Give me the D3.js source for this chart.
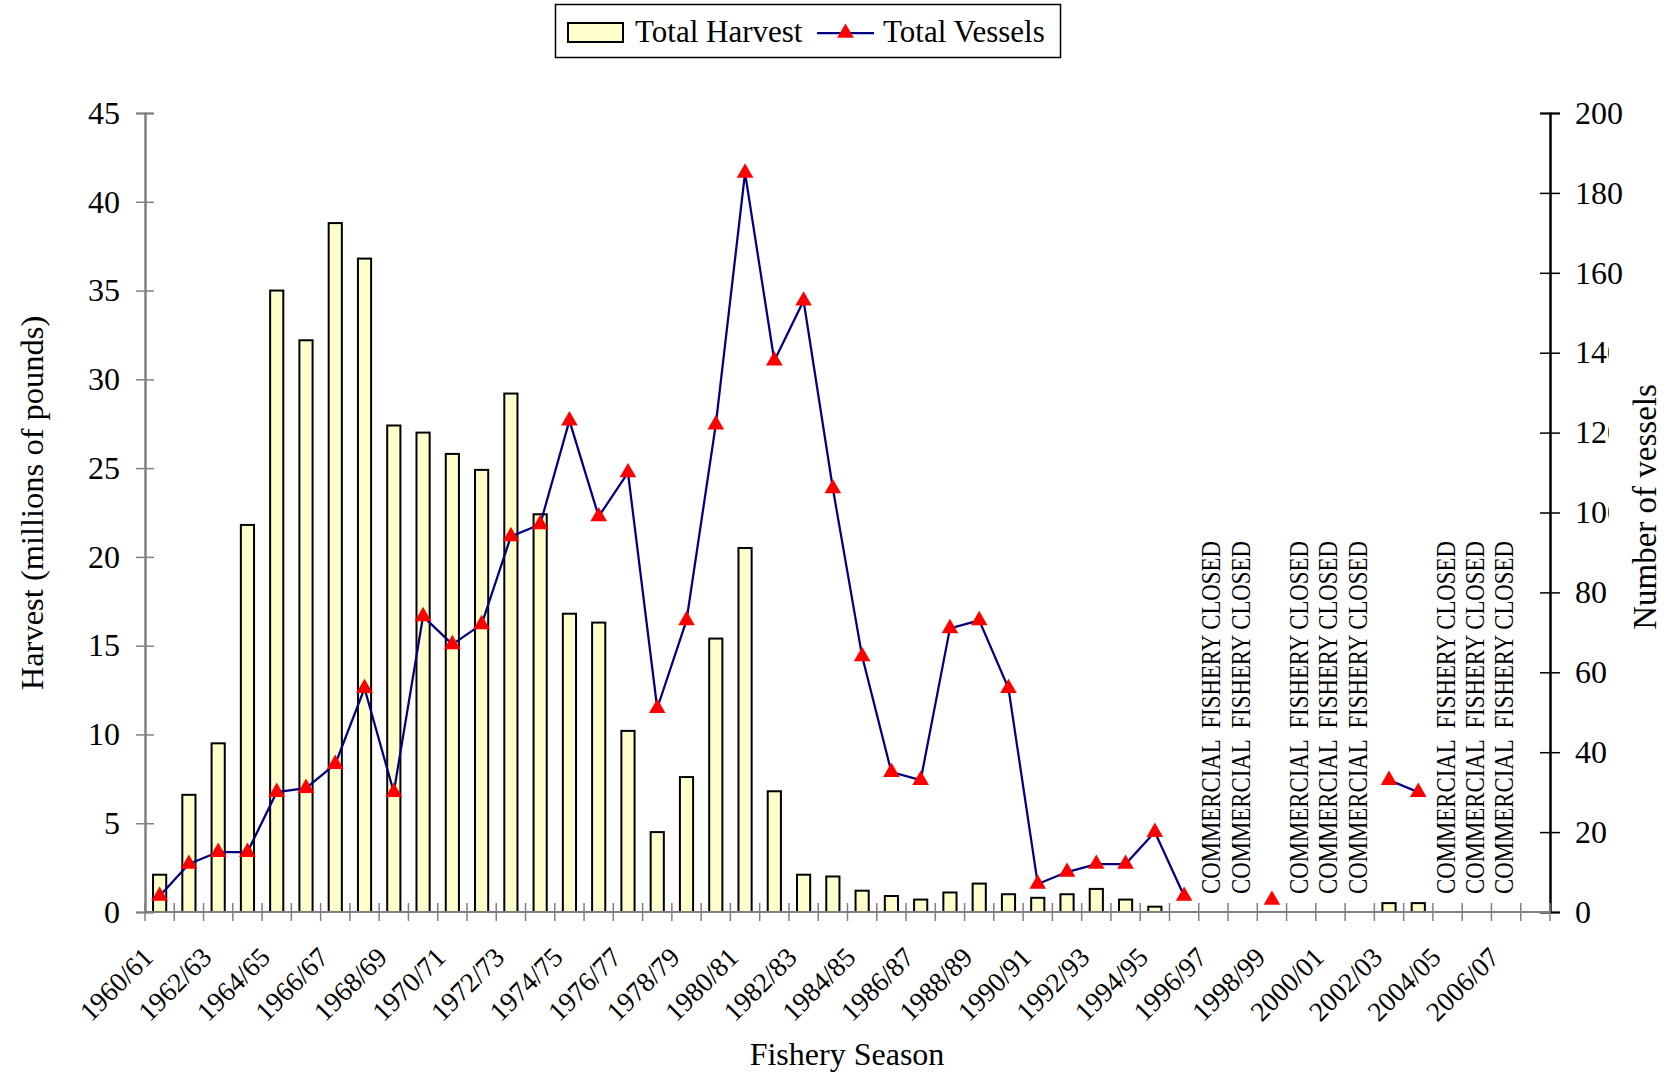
<!DOCTYPE html>
<html>
<head>
<meta charset="utf-8">
<script src="https://cdn.jsdelivr.net/npm/d3@7"></script>
<style>
html, body { margin: 0; padding: 0; background: #fff; }
svg { display: block; }
text { font-family: "Liberation Serif", "Times New Roman", serif; fill: #000; }
</style>
</head>
<body>
<svg id="chart" width="1671" height="1074"></svg>
<script>
// fishery seasons (x categories)
const seasons = ["1960/61","1961/62","1962/63","1963/64","1964/65","1965/66","1966/67","1967/68",
  "1968/69","1969/70","1970/71","1971/72","1972/73","1973/74","1974/75","1975/76",
  "1976/77","1977/78","1978/79","1979/80","1980/81","1981/82","1982/83","1983/84",
  "1984/85","1985/86","1986/87","1987/88","1988/89","1989/90","1990/91","1991/92",
  "1992/93","1993/94","1994/95","1995/96","1996/97","1997/98","1998/99","1999/00",
  "2000/01","2001/02","2002/03","2003/04","2004/05","2005/06","2006/07","2007/08"];

// total harvest, millions of pounds (null = no bar)
const harvest = [2.1, 6.6, 9.5, 21.8, 35.0, 32.2, 38.8, 36.8,
  27.4, 27.0, 25.8, 24.9, 29.2, 22.4, 16.8, 16.3,
  10.2, 4.5, 7.6, 15.4, 20.5, 6.8, 2.1, 2.0,
  1.2, 0.9, 0.7, 1.1, 1.6, 1.0, 0.8, 1.0,
  1.3, 0.7, 0.3, null, null, null, null, null,
  null, null, 0.5, 0.5, null, null, null, null];

// total vessels (null = no point)
const vessels = [4, 12, 15, 15, 30, 31, 37, 56,
  30, 74, 67, 72, 94, 97, 123, 99,
  110, 51, 73, 122, 185, 138, 153, 106,
  64, 35, 33, 71, 73, 56, 7, 10,
  12, 12, 20, 4, null, null, 3, null,
  null, null, 33, 30, null, null, null, null];

const closedSeasons = ["1996/97","1997/98","1999/00","2000/01","2001/02","2004/05","2005/06","2006/07"];

const leftTicks = [0, 5, 10, 15, 20, 25, 30, 35, 40, 45];
const rightTicks = [0, 20, 40, 60, 80, 100, 120, 140, 160, 180, 200];

const svg = d3.select("#chart");

const plotL = 145, plotR = 1550, plotT = 113, plotB = 912;

const x = d3.scaleBand().domain(seasons).range([plotL, plotR]).paddingInner(0.55).paddingOuter(0.275);
const yL = d3.scaleLinear().domain([0, 45]).range([plotB, plotT]);
const yR = d3.scaleLinear().domain([0, 200]).range([plotB, plotT]);
const cx = s => x(s) + x.bandwidth() / 2;

const axisGray = "#808080";

// bars
svg.append("g")
  .selectAll("rect")
  .data(seasons.map((s, i) => ({ s, v: harvest[i] })).filter(d => d.v != null))
  .join("rect")
  .attr("x", d => x(d.s))
  .attr("y", d => yL(d.v))
  .attr("width", x.bandwidth())
  .attr("height", d => plotB - yL(d.v))
  .attr("fill", "#FFFFCC")
  .attr("stroke", "#000")
  .attr("stroke-width", 2);

// left axis
const gL = svg.append("g").attr("transform", `translate(${plotL},0)`);
gL.call(d3.axisLeft(yL).tickValues(leftTicks).tickSize(9).tickPadding(16).tickFormat(d3.format("d")));
gL.append("g").call(d3.axisRight(yL).tickValues(leftTicks).tickSize(9).tickFormat(""));
gL.selectAll("path").attr("stroke", axisGray).attr("stroke-width", 2);
gL.selectAll("line").attr("stroke", axisGray).attr("stroke-width", 1.5);
gL.selectAll("text").style("font-size", "32px").style("font-family", "Liberation Serif");

// right axis
const gR = svg.append("g").attr("transform", `translate(${plotR},0)`);
gR.call(d3.axisRight(yR).tickValues(rightTicks).tickSize(10).tickPadding(15).tickFormat(d3.format("d")));
gR.append("g").call(d3.axisLeft(yR).tickValues(rightTicks).tickSize(10).tickFormat(""));
gR.selectAll("path").attr("stroke", "#000").attr("stroke-width", 2);
gR.selectAll("line").attr("stroke", "#000").attr("stroke-width", 1.5);
gR.selectAll("text").style("font-size", "32px").style("font-family", "Liberation Serif");

// x axis line and cross ticks at band boundaries
const gX = svg.append("g");
gX.append("line").attr("x1", plotL).attr("x2", plotR).attr("y1", plotB).attr("y2", plotB)
  .attr("stroke", axisGray).attr("stroke-width", 2);
gX.selectAll("line.tick")
  .data(seasons.concat(["end"]))
  .join("line")
  .attr("class", "tick")
  .attr("x1", (d, i) => i < seasons.length ? x(d) - x.step() * 0.275 : plotR)
  .attr("x2", (d, i) => i < seasons.length ? x(d) - x.step() * 0.275 : plotR)
  .attr("y1", plotB - 9).attr("y2", plotB + 9)
  .attr("stroke", axisGray).attr("stroke-width", 1.5);

gX.selectAll("text")
  .data(seasons.filter((s, i) => i % 2 === 0))
  .join("text")
  .attr("transform", d => `translate(${cx(d) - 5},${plotB + 47}) rotate(-45)`)
  .attr("text-anchor", "end")
  .style("font-size", "27.5px")
  .text(d => d);

// vessels line
const line = d3.line()
  .defined((d, i) => vessels[i] != null)
  .x((d, i) => cx(seasons[i]))
  .y((d, i) => yR(vessels[i]));
svg.append("path")
  .datum(seasons)
  .attr("d", line)
  .attr("fill", "none")
  .attr("stroke", "#000080")
  .attr("stroke-width", 2.25);

const tri = d3.symbol(d3.symbolTriangle, 120);
svg.append("g")
  .selectAll("path")
  .data(seasons.map((s, i) => ({ s, v: vessels[i] })).filter(d => d.v != null))
  .join("path")
  .attr("d", tri)
  .attr("transform", d => `translate(${cx(d.s)},${yR(d.v)})`)
  .attr("fill", "#FF0000");

// closed-season notes
svg.append("g")
  .selectAll("text")
  .data(closedSeasons)
  .join("text")
  .attr("transform", d => `translate(${cx(d) + 7},${plotB - 18}) rotate(-90)`)
  .attr("text-anchor", "start")
  .attr("textLength", 353)
  .attr("lengthAdjust", "spacingAndGlyphs")
  .style("font-size", "27px")
  .style("white-space", "pre")
  .text("COMMERCIAL  FISHERY CLOSED");

// axis titles
svg.append("text")
  .attr("transform", `translate(43,503) rotate(-90)`)
  .attr("text-anchor", "middle")
  .style("font-size", "32.5px")
  .text("Harvest (millions of pounds)");

svg.append("rect")
  .attr("x", 1609).attr("y", 300).attr("width", 62).attr("height", 420)
  .attr("fill", "#fff");
svg.append("text")
  .attr("transform", `translate(1656,507) rotate(-90)`)
  .attr("text-anchor", "middle")
  .style("font-size", "33px")
  .text("Number of vessels");

svg.append("text")
  .attr("x", 847).attr("y", 1065)
  .attr("text-anchor", "middle")
  .style("font-size", "32px")
  .text("Fishery Season");

// legend
const lg = svg.append("g");
lg.append("rect").attr("x", 555.5).attr("y", 4.5).attr("width", 505).attr("height", 53)
  .attr("fill", "#fff").attr("stroke", "#000").attr("stroke-width", 1.5);
lg.append("rect").attr("x", 568).attr("y", 23).attr("width", 55).attr("height", 19)
  .attr("fill", "#FFFFCC").attr("stroke", "#000").attr("stroke-width", 2);
lg.append("text").attr("x", 635).attr("y", 42).style("font-size", "31px").text("Total Harvest");
lg.append("line").attr("x1", 817).attr("x2", 874).attr("y1", 33).attr("y2", 33)
  .attr("stroke", "#000080").attr("stroke-width", 2.25);
lg.append("path").attr("d", tri).attr("transform", "translate(845.5,33)").attr("fill", "#FF0000");
lg.append("text").attr("x", 883).attr("y", 42).style("font-size", "31px").text("Total Vessels");
</script>
</body>
</html>
